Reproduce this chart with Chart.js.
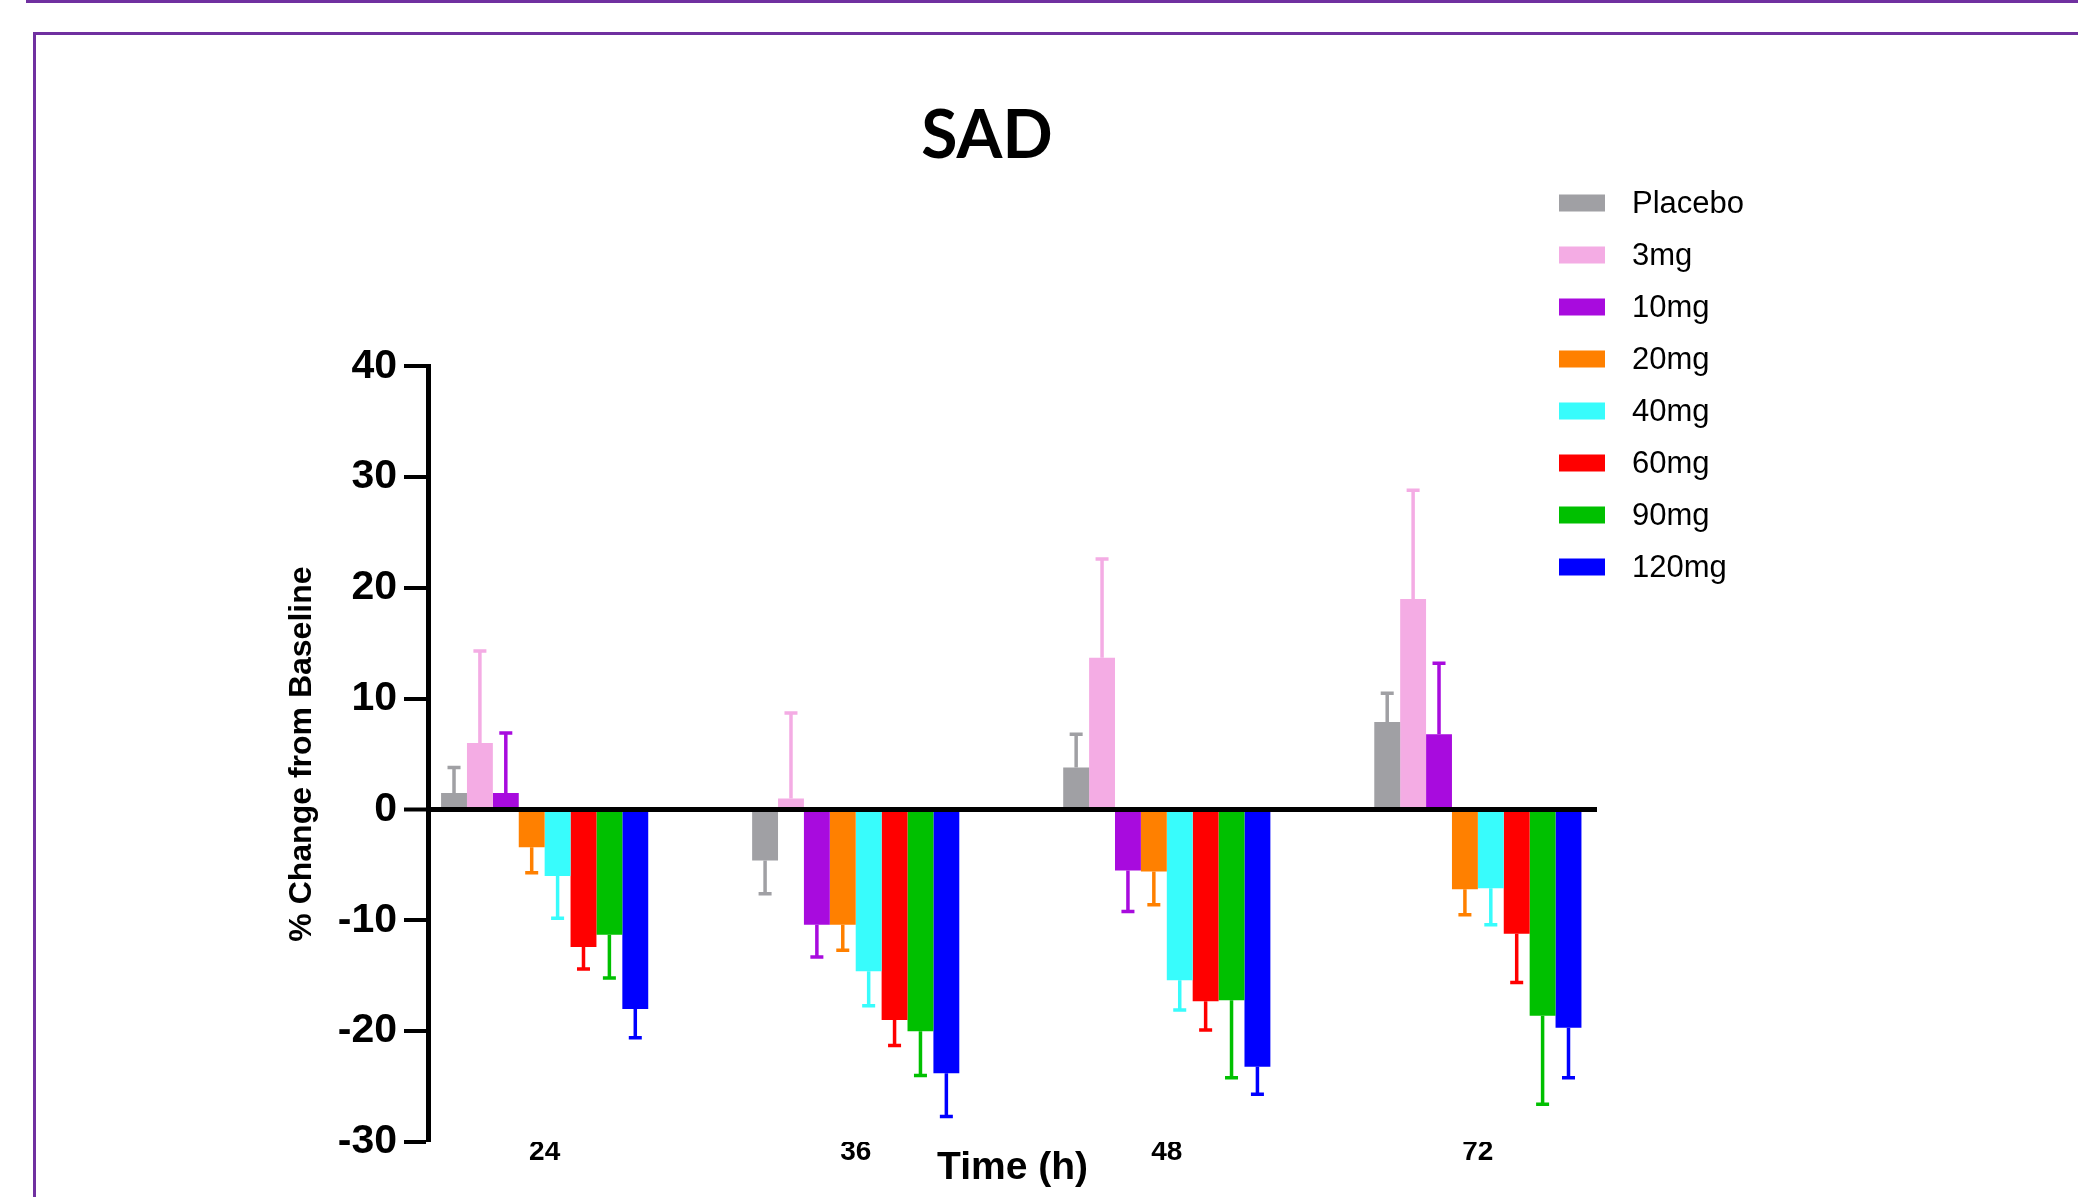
<!DOCTYPE html>
<html>
<head>
<meta charset="utf-8">
<title>SAD</title>
<script src="https://cdn.jsdelivr.net/npm/chart.js@4.4.0/dist/chart.umd.min.js"></script>
<style>
  html, body { margin: 0; padding: 0; background: #fff; }
  body { width: 2078px; height: 1197px; position: relative; overflow: hidden; }
  .topline { position: absolute; left: 26px; top: 0; right: 0; height: 3px; background: #7030a0; }
  .frame { position: absolute; left: 33px; top: 32px; width: 2100px; height: 1200px;
           border-top: 3px solid #7030a0; border-left: 3px solid #7030a0; }
  #wrap { position: absolute; left: 174px; top: 40px; width: 1626px; height: 1157px; }
</style>
</head>
<body>
<div class="topline"></div>
<div class="frame"></div>
<div id="wrap"><canvas id="sadChart"></canvas></div>
<script>
const timeLabels = ['24', '36', '48', '72'];
const doseLabels = ['Placebo', '3mg', '10mg', '20mg', '40mg', '60mg', '90mg', '120mg'];
const doseColors = ['#a0a0a4', '#f4ace4', '#a80bde', '#ff8000', '#38fcfc', '#ff0000', '#00c000', '#0000ff'];

// mean % change from baseline, one value per time point
const placebo = [1.5, -4.6, 3.8, 7.9];
const mg3 = [6.0, 1.0, 13.7, 19.0];
const mg10 = [1.5, -10.4, -5.5, 6.8];
const mg20 = [-3.4, -10.4, -5.6, -7.2];
const mg40 = [-6.0, -14.6, -15.4, -7.1];
const mg60 = [-12.4, -19.0, -17.3, -11.2];
const mg90 = [-11.3, -20.0, -17.2, -18.6];
const mg120 = [-18.0, -23.8, -23.2, -19.7];

// error bar lengths (drawn away from zero only)
const placeboErr = [2.3, 3.0, 3.0, 2.6];
const mg3Err = [8.3, 7.7, 8.9, 9.8];
const mg10Err = [5.4, 2.9, 3.7, 6.4];
const mg20Err = [2.3, 2.3, 3.0, 2.3];
const mg40Err = [3.8, 3.1, 2.7, 3.3];
const mg60Err = [2.0, 2.3, 2.6, 4.4];
const mg90Err = [3.9, 4.0, 7.0, 8.0];
const mg120Err = [2.6, 3.9, 2.5, 4.5];

const means = [placebo, mg3, mg10, mg20, mg40, mg60, mg90, mg120];
const errors = [placeboErr, mg3Err, mg10Err, mg20Err, mg40Err, mg60Err, mg90Err, mg120Err];

const arial = '"Liberation Sans", Arial, sans-serif';

// one-sided error bars on top of each bar
const errorBars = {
    id: 'errorBars',
    afterDatasetsDraw(chart) {
        const ctx = chart.ctx;
        const yScale = chart.scales.y;
        chart.data.datasets.forEach((ds, i) => {
            const meta = chart.getDatasetMeta(i);
            meta.data.forEach((bar, j) => {
                const v = ds.data[j].y;
                const tip = v + Math.sign(v) * ds.errors[j];
                const yTip = yScale.getPixelForValue(tip);
                ctx.save();
                ctx.strokeStyle = ds.backgroundColor;
                ctx.lineWidth = 3.5;
                ctx.beginPath();
                ctx.moveTo(bar.x, bar.y);
                ctx.lineTo(bar.x, yTip);
                ctx.moveTo(bar.x - 6.5, yTip);
                ctx.lineTo(bar.x + 6.5, yTip);
                ctx.stroke();
                ctx.restore();
            });
        });
    }
};

// legend sits over the top right of the plot, so draw it by hand
const sideLegend = {
    id: 'sideLegend',
    afterDraw(chart) {
        const ctx = chart.ctx;
        ctx.save();
        ctx.font = '31px ' + arial;
        ctx.textBaseline = 'middle';
        chart.data.datasets.forEach((ds, i) => {
            const y = 163 + i * 52;
            ctx.fillStyle = ds.backgroundColor;
            ctx.fillRect(1385, y - 8.5, 46, 17);
            ctx.fillStyle = '#000';
            ctx.fillText(ds.label, 1458, y + 1);
        });
        ctx.restore();
    }
};

const ctx = document.getElementById('sadChart').getContext('2d');

const chart = new Chart(ctx, {
    type: 'bar',
    data: {
        datasets: doseLabels.map((label, i) => ({
            label: label,
            data: means[i].map((v, j) => ({ x: j, y: v })),
            errors: errors[i],
            backgroundColor: doseColors[i],
            borderWidth: 0,
            categoryPercentage: 0.666,
            barPercentage: 1.0
        }))
    },
    options: {
        responsive: true,
        maintainAspectRatio: false,
        animation: false,
        devicePixelRatio: 1,
        layout: { padding: 0 },
        plugins: {
            legend: { display: false },
            tooltip: { enabled: false },
            title: {
                display: true,
                text: 'SAD',
                color: '#000',
                font: { family: 'Lato', size: 66, weight: 'bold' },
                padding: { top: 57, bottom: 190 }
            }
        },
        scales: {
            x: {
                type: 'linear',
                offset: false,
                min: -0.375,
                max: 3.383,
                border: { display: false },
                grid: { display: false },
                ticks: {
                    stepSize: 1,
                    includeBounds: false,
                    maxRotation: 0,
                    autoSkip: false,
                    padding: -15,
                    color: '#000',
                    font: { family: arial, size: 28, weight: 'bold' },
                    callback: v => Number.isInteger(v) ? timeLabels[v] : ''
                },
                title: {
                    display: true,
                    text: 'Time (h)',
                    color: '#000',
                    font: { family: arial, size: 39, weight: 'bold' },
                    padding: { top: 0, bottom: 5 }
                },
                afterFit: scale => { scale.height = 55; }
            },
            y: {
                min: -30,
                max: 40,
                z: 1,
                border: { display: true, color: '#000', width: 5 },
                grid: {
                    drawOnChartArea: true,
                    color: c => c.tick && c.tick.value === 0 ? '#000' : 'rgba(0,0,0,0)',
                    lineWidth: c => c.tick && c.tick.value === 0 ? 5 : 0,
                    tickColor: '#000',
                    tickWidth: 4,
                    tickLength: 24
                },
                ticks: {
                    stepSize: 10,
                    padding: 7,
                    color: '#000',
                    font: { family: arial, size: 41, weight: 'bold' }
                },
                title: {
                    display: true,
                    text: '% Change from Baseline',
                    color: '#000',
                    font: { family: arial, size: 32, weight: 'bold' },
                    padding: { top: 109, bottom: 0 }
                },
                afterFit: scale => { scale.width = 254; }
            },
            // empty right-hand axis that only reserves room for the legend
            legendSpace: {
                position: 'right',
                display: true,
                border: { display: false },
                grid: { display: false },
                ticks: { display: false },
                afterFit: scale => { scale.width = 203; }
            }
        }
    },
    plugins: [errorBars, sideLegend]
});
</script>
</body>
</html>
